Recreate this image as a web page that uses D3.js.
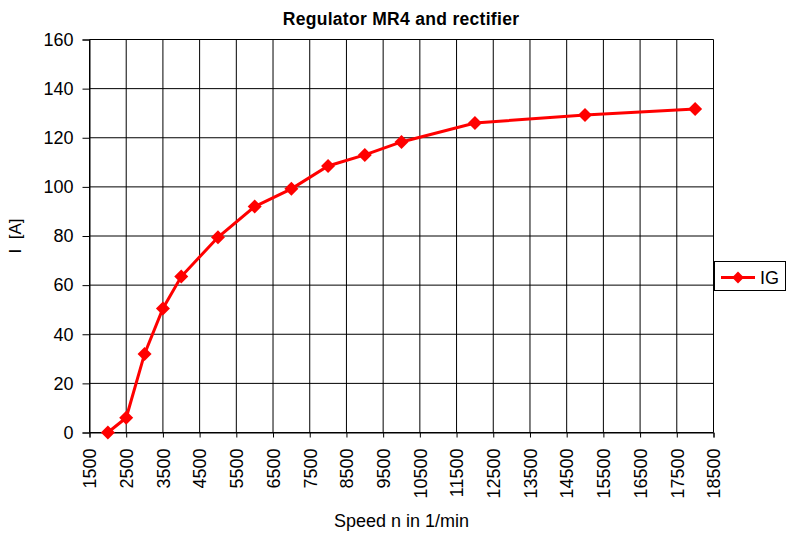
<!DOCTYPE html>
<html>
<head>
<meta charset="utf-8">
<script src="https://cdn.jsdelivr.net/npm/d3@7"></script>
<style>
  body { margin: 0; background: #fff; }
  text { font-family: "Liberation Sans", Arial, sans-serif; }
</style>
</head>
<body>
<svg id="chart"></svg>
<script>
// chart data
const speeds = [2000, 2500, 3000, 3500, 4000, 5000, 6000, 7000, 8000, 9000, 10000, 12000, 15000, 18000];
const currentIG = [0, 6, 32, 50.5, 63.5, 79.5, 92, 99.2, 108.5, 113, 118.3, 126, 129.3, 131.7];
const xTicks = d3.range(1500, 18501, 1000);
const yTicks = d3.range(0, 161, 20);
const seriesName = "IG";

const width = 790, height = 536;
const margin = { top: 39.5, left: 89.5 };

const svg = d3.select("#chart")
    .attr("width", width)
    .attr("height", height);

const x = d3.scaleLinear().domain([1500, 18500]).range([0, 624]);
const y = d3.scaleLinear().domain([0, 160]).range([393, 0]);

const g = svg.append("g")
    .attr("transform", `translate(${margin.left},${margin.top})`);

// grid lines
g.append("g").selectAll("line")
    .data(yTicks)
    .enter().append("line")
    .attr("x1", 0).attr("x2", x(18500))
    .attr("y1", d => y(d))
    .attr("y2", d => y(d))
    .attr("stroke", "#000").attr("stroke-width", 1);

g.append("g").selectAll("line")
    .data(xTicks)
    .enter().append("line")
    .attr("x1", d => x(d)).attr("x2", d => x(d))
    .attr("y1", 0).attr("y2", y(0))
    .attr("stroke", "#000").attr("stroke-width", 1);

// axes
const yAxis = d3.axisLeft(y).tickValues(yTicks).tickSize(7).tickPadding(9);
const gy = g.append("g").call(yAxis);
gy.select(".domain").attr("stroke", "#000");
gy.selectAll("text").style("font-size", "18px").attr("fill", "#000");

const xAxis = d3.axisBottom(x).tickValues(xTicks).tickSize(5).tickFormat(d3.format("d"));
const gx = g.append("g")
    .attr("transform", `translate(0,${y(0)})`)
    .call(xAxis);
gx.select(".domain").attr("stroke", "#000");
gx.selectAll("text")
    .style("font-size", "18px")
    .attr("fill", "#000")
    .attr("transform", "rotate(-90)")
    .attr("text-anchor", "end")
    .attr("x", -16)
    .attr("y", 0)
    .attr("dy", "0.35em");

// line and markers
const pts = speeds.map((s, i) => [s, currentIG[i]]);
g.append("path")
    .datum(pts)
    .attr("fill", "none")
    .attr("stroke", "#ff0000")
    .attr("stroke-width", 3)
    .attr("d", d3.line().x(d => x(d[0])).y(d => y(d[1])));

g.selectAll(".pt")
    .data(pts)
    .enter().append("path")
    .attr("class", "pt")
    .attr("transform", d => `translate(${x(d[0])},${y(d[1])}) rotate(45)`)
    .attr("d", d3.symbol().type(d3.symbolSquare).size(98))
    .attr("fill", "#ff0000");

// title and axis titles
svg.append("text")
    .attr("x", 401).attr("y", 25)
    .attr("text-anchor", "middle")
    .style("font-size", "17.5px").style("font-weight", "bold")
    .style("letter-spacing", "0.3px")
    .text("Regulator MR4 and rectifier");

svg.append("text")
    .attr("transform", "translate(21,236) rotate(-90)")
    .attr("text-anchor", "middle")
    .style("font-size", "17px")
    .style("white-space", "pre")
    .text("I  [A]");

svg.append("text")
    .attr("x", 401.5).attr("y", 527)
    .attr("text-anchor", "middle")
    .style("font-size", "18px")
    .text("Speed n in 1/min");

// legend
const lg = svg.append("g").attr("transform", "translate(714,261)");
lg.append("rect")
    .attr("x", 0.5).attr("y", 0.5)
    .attr("width", 71).attr("height", 29)
    .attr("fill", "#fff").attr("stroke", "#000");
lg.append("line")
    .attr("x1", 7).attr("x2", 41).attr("y1", 16.5).attr("y2", 16.5)
    .attr("stroke", "#ff0000").attr("stroke-width", 3);
lg.append("path")
    .attr("transform", "translate(24,16.5) rotate(45)")
    .attr("d", d3.symbol().type(d3.symbolSquare).size(70))
    .attr("fill", "#ff0000");
lg.append("text")
    .attr("x", 46).attr("y", 23)
    .style("font-size", "18px")
    .text(seriesName);
</script>
</body>
</html>
